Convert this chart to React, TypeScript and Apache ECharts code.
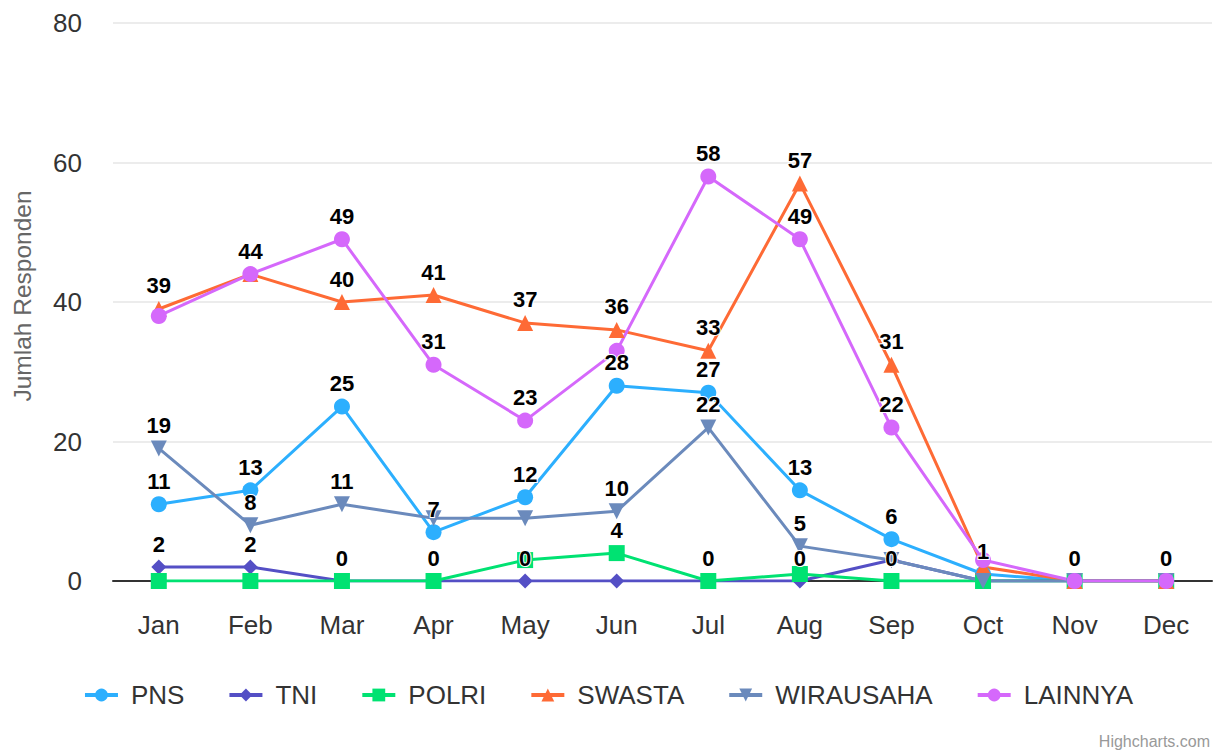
import React, { useEffect, useRef } from "react";
import * as echarts from "echarts";

const months = ["Jan", "Feb", "Mar", "Apr", "May", "Jun", "Jul", "Aug", "Sep", "Oct", "Nov", "Dec"];
const seriesNames = ["PNS", "TNI", "POLRI", "SWASTA", "WIRAUSAHA", "LAINNYA"];
const pns = [11, 13, 25, 7, 12, 28, 27, 13, 6, 1, 0, 0];
const tni = [2, 2, 0, 0, 0, 0, 0, 0, 3, 0, 0, 0];
const polri = [0, 0, 0, 0, 3, 4, 0, 1, 0, 0, 0, 0];
const swasta = [39, 44, 40, 41, 37, 36, 33, 57, 31, 2, 0, 0];
const wirausaha = [19, 8, 11, 9, 9, 10, 22, 5, 3, 0, 0, 0];
const lainnya = [38, 44, 49, 31, 23, 33, 58, 49, 22, 3, 0, 0];
const yTicks = [0, 20, 40, 60, 80];

// data labels that the original hides because they overlap (series, month)
const hiddenLabels: [string, string][] = [
  ["LAINNYA", "Jan"], ["POLRI", "Jan"],
  ["SWASTA", "Feb"], ["POLRI", "Feb"],
  ["POLRI", "Mar"],
  ["WIRAUSAHA", "Apr"], ["POLRI", "Apr"],
  ["WIRAUSAHA", "May"], ["POLRI", "May"],
  ["LAINNYA", "Jun"], ["TNI", "Jun"],
  ["POLRI", "Jul"],
  ["POLRI", "Aug"],
  ["TNI", "Sep"], ["WIRAUSAHA", "Sep"],
  ["TNI", "Oct"], ["POLRI", "Oct"], ["SWASTA", "Oct"], ["WIRAUSAHA", "Oct"], ["LAINNYA", "Oct"],
  ["PNS", "Nov"], ["TNI", "Nov"], ["POLRI", "Nov"], ["SWASTA", "Nov"], ["WIRAUSAHA", "Nov"],
  ["PNS", "Dec"], ["TNI", "Dec"], ["POLRI", "Dec"], ["SWASTA", "Dec"], ["WIRAUSAHA", "Dec"],
];

const colors = ["#2caffe", "#544fc5", "#00e272", "#fe6a35", "#6b8abc", "#d568fb"];
const symbols = [
  "circle",
  "diamond",
  "rect",
  "triangle",
  "path://M0,0 L10,0 L5,10 Z",
  "circle",
];

export default function App() {
  const ref = useRef<HTMLDivElement>(null);
  useEffect(() => {
    if (!ref.current) return;
    const chart = echarts.init(ref.current, null, { renderer: "svg" });
    const data = [pns, tni, polri, swasta, wirausaha, lainnya];
    const font = "'Liberation Sans', Arial, Helvetica, sans-serif";
    const isHidden = (s: string, m: string) => hiddenLabels.some(([a, b]) => a === s && b === m);
    chart.setOption({
      animation: false,
      textStyle: { fontFamily: font },
      color: colors,
      grid: {
        left: 113,
        right: 4,
        top: 23,
        bottom: 170,
        containLabel: false,
        outerBoundsMode: "none",
      },
      xAxis: {
        type: "category",
        data: months,
        boundaryGap: true,
        axisLine: { lineStyle: { color: "#333333", width: 2 } },
        axisTick: { show: false },
        axisLabel: { color: "#333333", fontSize: 26, margin: 31, fontFamily: font },
      },
      yAxis: {
        type: "value",
        min: yTicks[0],
        max: yTicks[yTicks.length - 1],
        interval: 20,
        name: "Jumlah Responden",
        nameLocation: "middle",
        nameGap: 78,
        nameTextStyle: { color: "#666666", fontSize: 24.5, fontFamily: font, padding: [0, 0, 0, 12] },
        axisLine: { show: false },
        axisTick: { show: false },
        axisLabel: { color: "#333333", fontSize: 26, margin: 31, fontFamily: font },
        splitLine: { lineStyle: { color: "#e6e6e6", width: 1.5 } },
      },
      legend: {
        top: 677,
        left: "center",
        itemWidth: 33,
        itemHeight: 16,
        itemGap: 43,
        lineStyle: { width: 4 },
        textStyle: { color: "#333333", fontSize: 26, fontFamily: font, padding: [0, 0, 0, 8] },
        data: seriesNames,
      },
      graphic: [
        {
          type: "text",
          right: 6,
          bottom: 2,
          style: { text: "Highcharts.com", fill: "#999999", fontSize: 16, fontFamily: font },
        },
      ],
      series: seriesNames.map((name, i) => ({
        name,
        type: "line",
        data: data[i].map((v, j) => ({
          value: v,
          label: { show: !isHidden(name, months[j]) },
        })),
        symbol: symbols[i],
        symbolSize: i === 1 ? 15 : 16,
        symbolKeepAspect: true,
        lineStyle: { width: 3, color: colors[i] },
        itemStyle: { color: colors[i] },
        label: {
          show: true,
          position: "top",
          distance: 4,
          color: "#000000",
          fontWeight: "bold",
          fontSize: 22,
          fontFamily: font,
          textBorderColor: "#ffffff",
          textBorderWidth: 2,
        },
      })),
    });
    return () => chart.dispose();
  }, []);
  return (
    <div
      ref={ref}
      style={{ position: "fixed", left: 0, top: 0, width: 1216, height: 751, background: "#ffffff" }}
    />
  );
}
